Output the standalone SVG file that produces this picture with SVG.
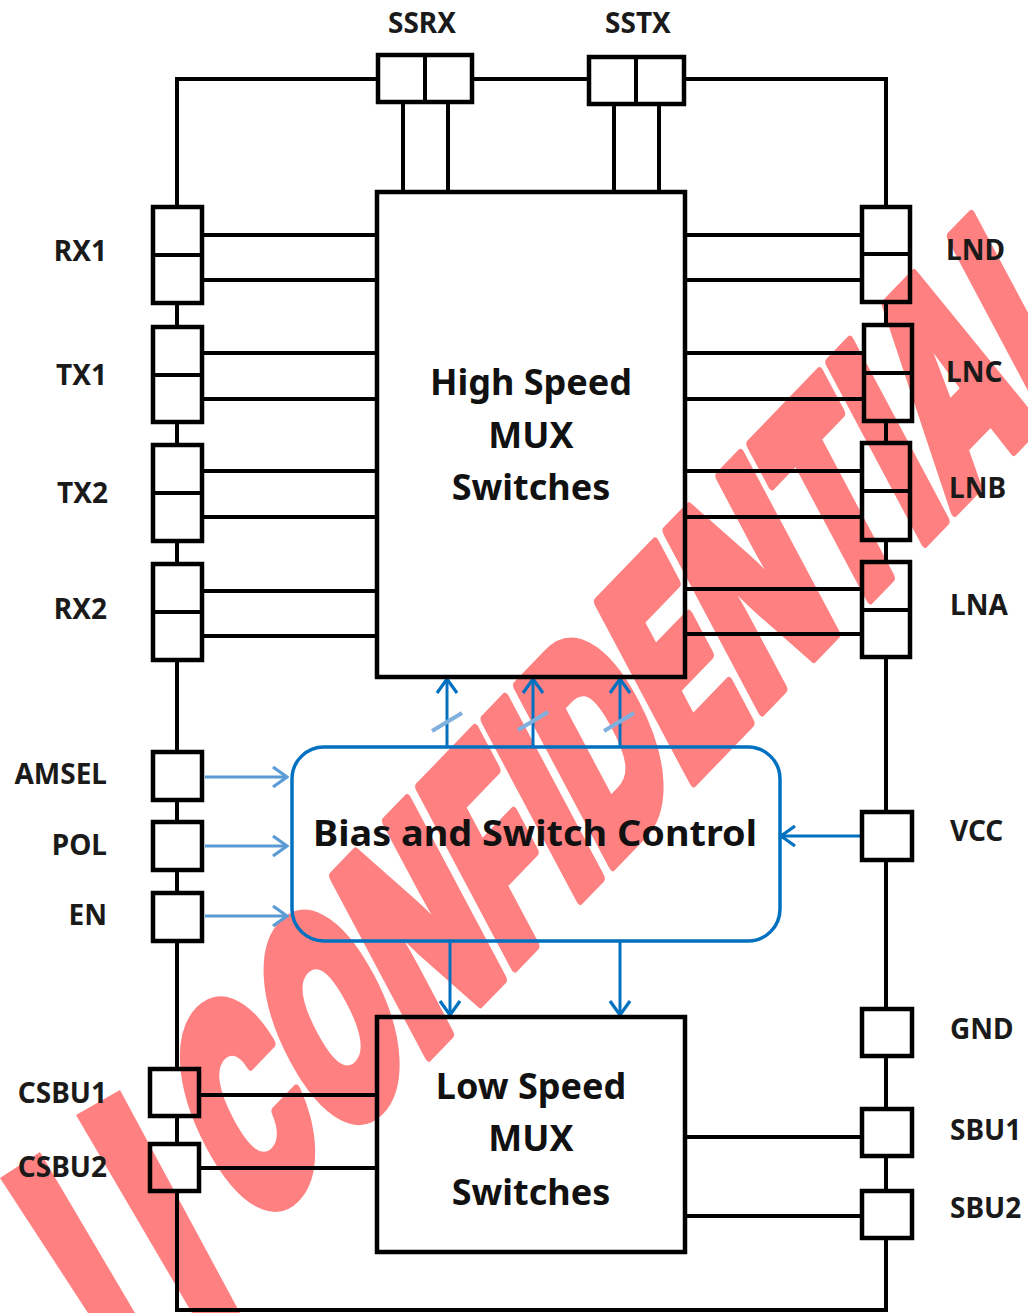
<svg xmlns="http://www.w3.org/2000/svg" width="1028" height="1313" viewBox="0 0 1028 1313">
<defs>
<style>
.ln{stroke:#000;stroke-width:4;fill:none;stroke-linecap:square}
.bx{stroke:#000;stroke-width:4.5;fill:none}
.lbl{font-family:"Noto Sans","Open Sans",sans-serif;font-weight:bold;font-size:28px;fill:#1a1a1a}
.big{font-family:"Noto Sans","Open Sans",sans-serif;font-weight:bold;font-size:36px;fill:#111;text-anchor:middle}
.dk{stroke:#0070c0;stroke-width:3;fill:none}
.lt{stroke:#5b9bd5;stroke-width:3;fill:none}
.sl{stroke:#7fb0de;stroke-width:4;fill:none}
.r{text-anchor:end}
.wm{font-family:Inter,"DejaVu Sans",sans-serif;font-weight:900;font-size:264px;fill:#ff8080;stroke:#ff8080;stroke-width:11;stroke-linejoin:round}
</style>
<marker id="adk" viewBox="0 0 18 24" refX="16" refY="12" markerWidth="18" markerHeight="24" markerUnits="userSpaceOnUse" orient="auto">
<path d="M2,2 L16,12 L2,22" fill="none" stroke="#0070c0" stroke-width="3.2"/>
</marker>
<marker id="alt" viewBox="0 0 18 24" refX="16" refY="12" markerWidth="18" markerHeight="24" markerUnits="userSpaceOnUse" orient="auto">
<path d="M2,2 L16,12 L2,22" fill="none" stroke="#5b9bd5" stroke-width="3.2"/>
</marker>
</defs>
<rect width="1028" height="1313" fill="#fff"/>

<g id="watermark">
<text class="wm" transform="translate(252 1238) rotate(-46) skewX(-18) scale(0.61 1)">CONFIDENTIAL</text>
<polygon points="0,1178 40,1152 135,1313 88,1313" fill="#ff8080"/>
<polygon points="76,1115 120,1090 240,1313 192,1313" fill="#ff8080"/>
</g>

<g id="connectors">
<path class="ln" d="M177,207 V79 H378 M472,79 H589 M684,79 H886 V207 M177,303 V327 M177,422 V445 M177,541 V564 M177,660 V752 M177,800 V822 M177,870 V893 M177,941 V1069 M177,1116 V1144 M177,1191 V1310 H886 V1238 M886,302 V325 M886,421 V443 M886,540 V562 M886,657 V812 M886,860 V1009 M886,1056 V1109 M886,1156 V1191"/>
<path class="ln" d="M403,102 V192 M448,102 V192 M614,104 V192 M659,104 V192"/>
<path class="ln" d="M202,235 H377 M202,280 H377 M202,353 H377 M202,399 H377 M202,471 H377 M202,517 H377 M202,591 H377 M202,636 H377"/>
<path class="ln" d="M685,235 H862 M685,280 H862 M685,353 H862 M685,399 H862 M685,471 H862 M685,517 H862 M685,589 H862 M685,634 H862"/>
<path class="ln" d="M199,1095 H377 M199,1168 H377 M685,1137 H862 M685,1216 H862"/>
<line class="dk" x1="447" y1="747" x2="447" y2="679" marker-end="url(#adk)"/>
<line class="dk" x1="533" y1="747" x2="533" y2="679" marker-end="url(#adk)"/>
<line class="dk" x1="620" y1="747" x2="620" y2="679" marker-end="url(#adk)"/>
<line class="sl" x1="432" y1="731" x2="462" y2="713"/>
<line class="sl" x1="518" y1="730" x2="548" y2="712"/>
<line class="sl" x1="604" y1="731" x2="634" y2="713"/>
<line class="dk" x1="450" y1="942" x2="450" y2="1015" marker-end="url(#adk)"/>
<line class="dk" x1="620" y1="942" x2="620" y2="1015" marker-end="url(#adk)"/>
<line class="dk" x1="862" y1="836" x2="781" y2="836" marker-end="url(#adk)"/>
<line class="lt" x1="205" y1="777" x2="287" y2="777" marker-end="url(#alt)"/>
<line class="lt" x1="205" y1="846" x2="287" y2="846" marker-end="url(#alt)"/>
<line class="lt" x1="205" y1="916" x2="287" y2="916" marker-end="url(#alt)"/>
</g>

<g id="hs-mux">
<rect class="bx" x="377" y="192" width="308" height="485"/>
<text class="big" x="531" y="395">High Speed</text>
<text class="big" x="531" y="448">MUX</text>
<text class="big" x="531" y="500">Switches</text>
</g>
<g id="ls-mux">
<rect class="bx" x="377" y="1017" width="308" height="235"/>
<text class="big" x="531" y="1099">Low Speed</text>
<text class="big" x="531" y="1151">MUX</text>
<text class="big" x="531" y="1205">Switches</text>
</g>
<g id="bias-ctrl">
<rect x="292" y="747" width="488" height="194" rx="32" ry="32" fill="none" stroke="#0070c0" stroke-width="3.5"/>
<text class="big" x="535" y="846" font-size="38" textLength="444" lengthAdjust="spacingAndGlyphs">Bias and Switch Control</text>
</g>

<g id="pin-ssrx"><rect class="bx" x="378" y="55" width="94" height="47"/><line class="ln" x1="425" y1="55" x2="425" y2="102"/><text class="lbl" x="422" y="33" text-anchor="middle">SSRX</text></g>
<g id="pin-sstx"><rect class="bx" x="589" y="57" width="95" height="47"/><line class="ln" x1="636" y1="57" x2="636" y2="104"/><text class="lbl" x="638" y="33" text-anchor="middle">SSTX</text></g>

<g id="pin-rx1"><rect class="bx" x="153" y="207" width="49" height="96"/><line class="ln" x1="153" y1="255" x2="202" y2="255"/><text class="lbl r" x="107" y="261">RX1</text></g>
<g id="pin-tx1"><rect class="bx" x="153" y="327" width="49" height="95"/><line class="ln" x1="153" y1="375" x2="202" y2="375"/><text class="lbl r" x="107" y="385">TX1</text></g>
<g id="pin-tx2"><rect class="bx" x="153" y="445" width="49" height="96"/><line class="ln" x1="153" y1="493" x2="202" y2="493"/><text class="lbl r" x="108" y="503">TX2</text></g>
<g id="pin-rx2"><rect class="bx" x="153" y="564" width="49" height="96"/><line class="ln" x1="153" y1="612" x2="202" y2="612"/><text class="lbl r" x="107" y="619">RX2</text></g>

<g id="pin-amsel"><rect class="bx" x="153" y="752" width="49" height="48"/><text class="lbl r" x="107" y="784">AMSEL</text></g>
<g id="pin-pol"><rect class="bx" x="153" y="822" width="49" height="48"/><text class="lbl r" x="107" y="855">POL</text></g>
<g id="pin-en"><rect class="bx" x="153" y="893" width="49" height="48"/><text class="lbl r" x="107" y="925">EN</text></g>
<g id="pin-csbu1"><rect class="bx" x="150" y="1069" width="49" height="47"/><text class="lbl r" x="107" y="1103">CSBU1</text></g>
<g id="pin-csbu2"><rect class="bx" x="150" y="1144" width="49" height="47"/><text class="lbl r" x="107" y="1177">CSBU2</text></g>

<g id="pin-lnd"><rect class="bx" x="862" y="207" width="48" height="95"/><line class="ln" x1="862" y1="254" x2="910" y2="254"/><text class="lbl" x="946" y="260">LND</text></g>
<g id="pin-lnc"><rect class="bx" x="864" y="325" width="48" height="96"/><line class="ln" x1="864" y1="373" x2="912" y2="373"/><text class="lbl" x="946" y="382">LNC</text></g>
<g id="pin-lnb"><rect class="bx" x="862" y="443" width="48" height="97"/><line class="ln" x1="862" y1="491" x2="910" y2="491"/><text class="lbl" x="949" y="498">LNB</text></g>
<g id="pin-lna"><rect class="bx" x="862" y="562" width="48" height="95"/><line class="ln" x1="862" y1="610" x2="910" y2="610"/><text class="lbl" x="950" y="615">LNA</text></g>

<g id="pin-vcc"><rect class="bx" x="862" y="812" width="50" height="48"/><text class="lbl" x="950" y="841">VCC</text></g>
<g id="pin-gnd"><rect class="bx" x="862" y="1009" width="50" height="47"/><text class="lbl" x="950" y="1039">GND</text></g>
<g id="pin-sbu1"><rect class="bx" x="862" y="1109" width="50" height="47"/><text class="lbl" x="950" y="1140">SBU1</text></g>
<g id="pin-sbu2"><rect class="bx" x="862" y="1191" width="50" height="47"/><text class="lbl" x="950" y="1218">SBU2</text></g>
</svg>
